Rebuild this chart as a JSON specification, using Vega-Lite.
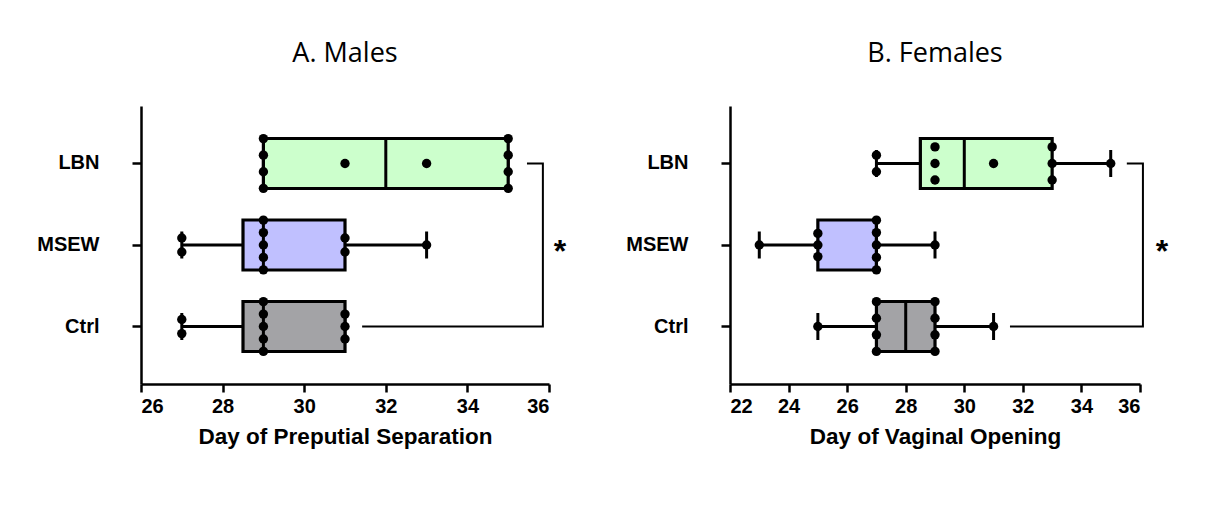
{
  "$schema": "https://vega.github.io/schema/vega-lite/v6.json",
  "background": "white",
  "padding": {"left": 36, "top": 40, "right": 5, "bottom": 5},
  "spacing": 58,
  "config": {
    "view": {"stroke": null},
    "axis": {
      "labelFont": "Liberation Sans", "labelFontWeight": "bold", "labelFontSize": 20, "labelColor": "black",
      "titleFont": "Liberation Sans", "titleFontWeight": "bold", "titleFontSize": 22.5, "titleColor": "black",
      "domainColor": "black", "domainWidth": 2.5, "tickColor": "black", "tickWidth": 2.5, "grid": false
    },
    "title": {"font": "Open Sans", "fontSize": 27, "fontWeight": "normal", "color": "black", "offset": 38, "anchor": "middle"}
  },
  "datasets": {
    "mstats": [
      {"g": "LBN", "min": 29, "q1": 29, "med": 32, "q3": 35, "max": 35},
      {"g": "MSEW", "min": 27, "q1": 28.5, "med": 29, "q3": 31, "max": 33},
      {"g": "Ctrl", "min": 27, "q1": 28.5, "med": 29, "q3": 31, "max": 31}
    ],
    "fstats": [
      {"g": "LBN", "min": 27, "q1": 28.5, "med": 30, "q3": 33, "max": 35},
      {"g": "MSEW", "min": 23, "q1": 25, "med": 27, "q3": 27, "max": 29},
      {"g": "Ctrl", "min": 25, "q1": 27, "med": 28, "q3": 29, "max": 31}
    ],
    "mdots": [
      {"g": "LBN", "v": 29, "s": -3}, {"g": "LBN", "v": 29, "s": -1}, {"g": "LBN", "v": 29, "s": 1}, {"g": "LBN", "v": 29, "s": 3},
      {"g": "LBN", "v": 31, "s": 0}, {"g": "LBN", "v": 33, "s": 0},
      {"g": "LBN", "v": 35, "s": -3}, {"g": "LBN", "v": 35, "s": -1}, {"g": "LBN", "v": 35, "s": 1}, {"g": "LBN", "v": 35, "s": 3},
      {"g": "MSEW", "v": 27, "s": -0.85}, {"g": "MSEW", "v": 27, "s": 0.85},
      {"g": "MSEW", "v": 29, "s": -3}, {"g": "MSEW", "v": 29, "s": -1.5}, {"g": "MSEW", "v": 29, "s": 0}, {"g": "MSEW", "v": 29, "s": 1.5}, {"g": "MSEW", "v": 29, "s": 3},
      {"g": "MSEW", "v": 31, "s": -0.85}, {"g": "MSEW", "v": 31, "s": 0.85},
      {"g": "MSEW", "v": 33, "s": 0},
      {"g": "Ctrl", "v": 27, "s": -0.85}, {"g": "Ctrl", "v": 27, "s": 0.85},
      {"g": "Ctrl", "v": 29, "s": -3}, {"g": "Ctrl", "v": 29, "s": -1.5}, {"g": "Ctrl", "v": 29, "s": 0}, {"g": "Ctrl", "v": 29, "s": 1.5}, {"g": "Ctrl", "v": 29, "s": 3},
      {"g": "Ctrl", "v": 31, "s": -1.5}, {"g": "Ctrl", "v": 31, "s": 0}, {"g": "Ctrl", "v": 31, "s": 1.5}
    ],
    "fdots": [
      {"g": "LBN", "v": 27, "s": -1}, {"g": "LBN", "v": 27, "s": 1},
      {"g": "LBN", "v": 29, "s": -2}, {"g": "LBN", "v": 29, "s": 0}, {"g": "LBN", "v": 29, "s": 2},
      {"g": "LBN", "v": 31, "s": 0},
      {"g": "LBN", "v": 33, "s": -2}, {"g": "LBN", "v": 33, "s": 0}, {"g": "LBN", "v": 33, "s": 2},
      {"g": "LBN", "v": 35, "s": 0},
      {"g": "MSEW", "v": 23, "s": 0},
      {"g": "MSEW", "v": 25, "s": -1.4}, {"g": "MSEW", "v": 25, "s": 0}, {"g": "MSEW", "v": 25, "s": 1.4},
      {"g": "MSEW", "v": 27, "s": -3}, {"g": "MSEW", "v": 27, "s": -1.5}, {"g": "MSEW", "v": 27, "s": 0}, {"g": "MSEW", "v": 27, "s": 1.5}, {"g": "MSEW", "v": 27, "s": 3},
      {"g": "MSEW", "v": 29, "s": 0},
      {"g": "Ctrl", "v": 25, "s": 0},
      {"g": "Ctrl", "v": 27, "s": -3}, {"g": "Ctrl", "v": 27, "s": -1}, {"g": "Ctrl", "v": 27, "s": 1}, {"g": "Ctrl", "v": 27, "s": 3},
      {"g": "Ctrl", "v": 29, "s": -3}, {"g": "Ctrl", "v": 29, "s": -1}, {"g": "Ctrl", "v": 29, "s": 1}, {"g": "Ctrl", "v": 29, "s": 3},
      {"g": "Ctrl", "v": 31, "s": 0}
    ],
    "mbr": [
      {"g": "Ctrl", "v": 31.42, "o": 1}, {"g": "Ctrl", "v": 35.85, "o": 2},
      {"g": "LBN", "v": 35.85, "o": 3}, {"g": "LBN", "v": 35.46, "o": 4}
    ],
    "fbr": [
      {"g": "Ctrl", "v": 31.56, "o": 1}, {"g": "Ctrl", "v": 36.1, "o": 2},
      {"g": "LBN", "v": 36.1, "o": 3}, {"g": "LBN", "v": 35.55, "o": 4}
    ],
    "mstar": [{"g": "MSEW", "v": 36.27, "t": "*"}],
    "fstar": [{"g": "MSEW", "v": 36.75, "t": "*"}]
  },
  "hconcat": [
    {
      "title": "A. Males",
      "width": 408,
      "height": 278,
      "encoding": {
        "y": {"field": "g", "type": "nominal", "sort": ["LBN", "MSEW", "Ctrl"],
          "scale": {"domain": ["LBN", "MSEW", "Ctrl"], "paddingInner": 0.39, "paddingOuter": 0.4},
          "axis": {"title": null, "tickSize": 9, "labelPadding": 33}}
      },
      "layer": [
        {
          "data": {"name": "mstats"},
          "mark": {"type": "rule", "color": "black", "strokeWidth": 3},
          "encoding": {
            "x": {"field": "min", "type": "quantitative", "scale": {"domain": [26, 36], "nice": false, "zero": false},
              "axis": {"values": [26, 28, 30, 32, 34, 36], "title": "Day of Preputial Separation", "tickSize": 8, "labelPadding": 4, "titlePadding": 9}},
            "x2": {"field": "max"}
          }
        },
        {
          "data": {"name": "mstats"},
          "mark": {"type": "tick", "color": "black", "thickness": 3, "size": 27, "opacity": 1},
          "encoding": {"x": {"field": "min", "type": "quantitative"}}
        },
        {
          "data": {"name": "mstats"},
          "mark": {"type": "tick", "color": "black", "thickness": 3, "size": 27, "opacity": 1},
          "encoding": {"x": {"field": "max", "type": "quantitative"}}
        },
        {
          "data": {"name": "mstats"},
          "mark": {"type": "bar", "stroke": "black", "strokeWidth": 3.2, "opacity": 1, "height": 50},
          "encoding": {
            "x": {"field": "q1", "type": "quantitative"},
            "x2": {"field": "q3"},
            "color": {"field": "g", "type": "nominal", "legend": null,
              "scale": {"domain": ["LBN", "MSEW", "Ctrl"], "range": ["#CCFFCC", "#C0C0FF", "#A3A3A6"]}}
          }
        },
        {
          "data": {"name": "mstats"},
          "mark": {"type": "tick", "color": "black", "thickness": 3, "size": 50, "opacity": 1},
          "encoding": {"x": {"field": "med", "type": "quantitative"}}
        },
        {
          "data": {"name": "mdots"},
          "mark": {"type": "point", "filled": true, "color": "black", "size": 88, "opacity": 1},
          "encoding": {
            "x": {"field": "v", "type": "quantitative"},
            "yOffset": {"field": "s", "type": "quantitative", "scale": {"domain": [-3, 3], "zero": false, "nice": false}}
          }
        },
        {
          "data": {"name": "mbr"},
          "mark": {"type": "line", "color": "black", "strokeWidth": 2},
          "encoding": {
            "x": {"field": "v", "type": "quantitative"},
            "order": {"field": "o", "type": "quantitative"}
          }
        },
        {
          "data": {"name": "mstar"},
          "mark": {"type": "text", "font": "Liberation Sans", "fontWeight": "bold", "fontSize": 32, "color": "black", "baseline": "middle", "dy": 7},
          "encoding": {
            "x": {"field": "v", "type": "quantitative"},
            "text": {"field": "t"}
          }
        }
      ]
    },
    {
      "title": "B. Females",
      "width": 410,
      "height": 278,
      "encoding": {
        "y": {"field": "g", "type": "nominal", "sort": ["LBN", "MSEW", "Ctrl"],
          "scale": {"domain": ["LBN", "MSEW", "Ctrl"], "paddingInner": 0.39, "paddingOuter": 0.4},
          "axis": {"title": null, "tickSize": 9, "labelPadding": 33}}
      },
      "layer": [
        {
          "data": {"name": "fstats"},
          "mark": {"type": "rule", "color": "black", "strokeWidth": 3},
          "encoding": {
            "x": {"field": "min", "type": "quantitative", "scale": {"domain": [22, 36], "nice": false, "zero": false},
              "axis": {"values": [22, 24, 26, 28, 30, 32, 34, 36], "title": "Day of Vaginal Opening", "tickSize": 8, "labelPadding": 4, "titlePadding": 9}},
            "x2": {"field": "max"}
          }
        },
        {
          "data": {"name": "fstats"},
          "mark": {"type": "tick", "color": "black", "thickness": 3, "size": 27, "opacity": 1},
          "encoding": {"x": {"field": "min", "type": "quantitative"}}
        },
        {
          "data": {"name": "fstats"},
          "mark": {"type": "tick", "color": "black", "thickness": 3, "size": 27, "opacity": 1},
          "encoding": {"x": {"field": "max", "type": "quantitative"}}
        },
        {
          "data": {"name": "fstats"},
          "mark": {"type": "bar", "stroke": "black", "strokeWidth": 3.2, "opacity": 1, "height": 50},
          "encoding": {
            "x": {"field": "q1", "type": "quantitative"},
            "x2": {"field": "q3"},
            "color": {"field": "g", "type": "nominal", "legend": null,
              "scale": {"domain": ["LBN", "MSEW", "Ctrl"], "range": ["#CCFFCC", "#C0C0FF", "#A3A3A6"]}}
          }
        },
        {
          "data": {"name": "fstats"},
          "mark": {"type": "tick", "color": "black", "thickness": 3, "size": 50, "opacity": 1},
          "encoding": {"x": {"field": "med", "type": "quantitative"}}
        },
        {
          "data": {"name": "fdots"},
          "mark": {"type": "point", "filled": true, "color": "black", "size": 88, "opacity": 1},
          "encoding": {
            "x": {"field": "v", "type": "quantitative"},
            "yOffset": {"field": "s", "type": "quantitative", "scale": {"domain": [-3, 3], "zero": false, "nice": false}}
          }
        },
        {
          "data": {"name": "fbr"},
          "mark": {"type": "line", "color": "black", "strokeWidth": 2},
          "encoding": {
            "x": {"field": "v", "type": "quantitative"},
            "order": {"field": "o", "type": "quantitative"}
          }
        },
        {
          "data": {"name": "fstar"},
          "mark": {"type": "text", "font": "Liberation Sans", "fontWeight": "bold", "fontSize": 32, "color": "black", "baseline": "middle", "dy": 7},
          "encoding": {
            "x": {"field": "v", "type": "quantitative"},
            "text": {"field": "t"}
          }
        }
      ]
    }
  ]
}
